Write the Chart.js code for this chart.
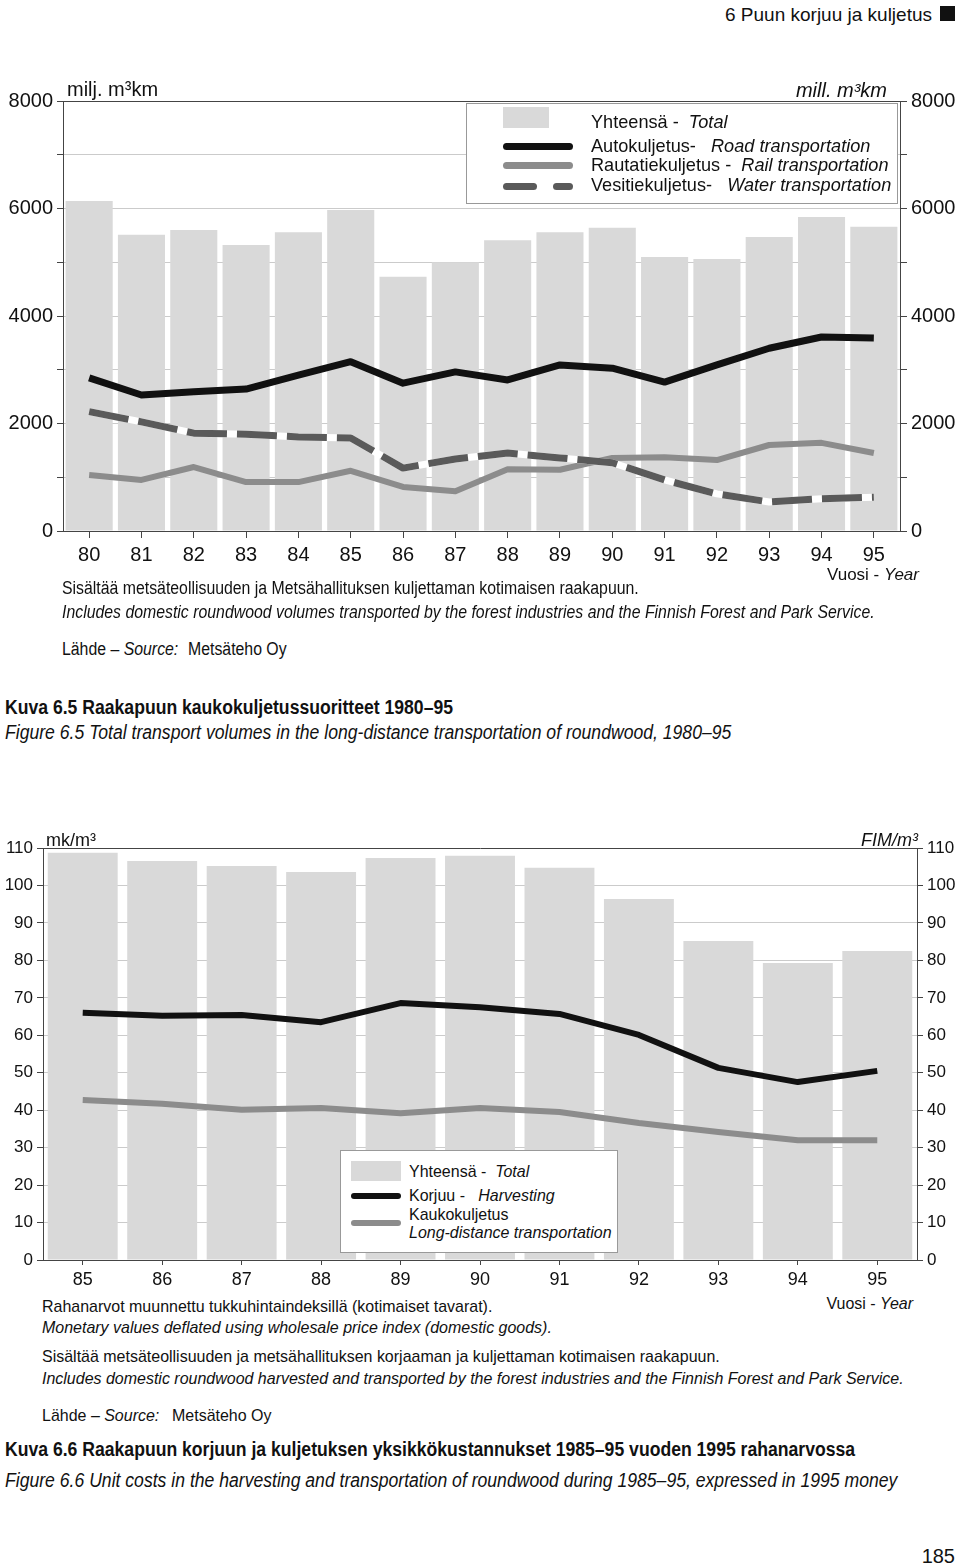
<html>
<head>
<script src="https://cdn.jsdelivr.net/npm/chart.js@4.4.1/dist/chart.umd.min.js"></script>
<style>
  body { margin:0; background:#fff; color:#111; }
  #page { position:relative; width:960px; height:1566px; overflow:hidden; font-family:"Liberation Sans Narrow","Liberation Sans",Arial,sans-serif; }
  .t { position:absolute; white-space:nowrap; line-height:1; transform-origin:0 0; }
  .i { font-style:italic; }
  .b { font-weight:bold; }
  .w { font-family:"Liberation Sans",Arial,sans-serif; }
  .n88 { transform:scaleX(0.88); }
  .n94 { transform:scaleX(0.94); }
  .n95 { transform:scaleX(0.955); }
  .r { transform-origin:100% 0; }
  .box { position:absolute; background:#fff; border:1px solid #999; }
  .sw { position:absolute; }
</style>
</head>
<body>
<div id="page">

  <!-- page header -->
  <div class="t w" style="right:28px;top:5px;font-size:19px;">6 Puun korjuu ja kuljetus</div>
  <div class="sw" style="left:940px;top:6px;width:15px;height:15px;background:#111;"></div>

  <!-- chart 6.5 -->
  <div style="position:absolute;left:0;top:80px;width:960px;height:500px;">
    <canvas id="transport-chart"></canvas>
  </div>
  <div class="t w" style="left:67px;top:79px;font-size:20px;">milj. m³km</div>
  <div class="t w i" style="right:73px;top:80px;font-size:20px;">mill. m³km</div>

  <div class="box" style="left:466px;top:103px;width:430px;height:99px;"></div>
  <div class="sw" style="left:503px;top:107px;width:46px;height:21px;background:#d9d9d9;"></div>
  <div class="sw" style="left:503px;top:143px;width:70px;height:7px;background:#111;border-radius:4px;"></div>
  <div class="sw" style="left:503px;top:162px;width:70px;height:7px;background:#8c8c8c;border-radius:4px;"></div>
  <div class="sw" style="left:503px;top:183px;width:34px;height:7px;background:#5a5a5a;border-radius:4px;"></div>
  <div class="sw" style="left:553px;top:183px;width:20px;height:7px;background:#5a5a5a;border-radius:4px;"></div>
  <div class="t n95" style="left:591px;top:112px;font-size:19px;">Yhteensä - &nbsp;<span class="i">Total</span></div>
  <div class="t n95" style="left:591px;top:136px;font-size:19px;">Autokuljetus- &nbsp;&nbsp;<span class="i">Road transportation</span></div>
  <div class="t n95" style="left:591px;top:155px;font-size:19px;">Rautatiekuljetus - &nbsp;<span class="i">Rail transportation</span></div>
  <div class="t n95" style="left:591px;top:175px;font-size:19px;">Vesitiekuljetus- &nbsp;&nbsp;<span class="i">Water transportation</span></div>

  <div class="t" style="right:41px;top:566px;font-size:17px;">Vuosi - <span class="i">Year</span></div>
  <div class="t n88" style="left:62px;top:579px;font-size:18px;">Sisältää metsäteollisuuden ja Metsähallituksen kuljettaman kotimaisen raakapuun.</div>
  <div class="t i n88" style="left:62px;top:603px;font-size:18px;">Includes domestic roundwood volumes transported by the forest industries and the Finnish Forest and Park Service.</div>
  <div class="t n88" style="left:62px;top:640px;font-size:18px;">Lähde – <span class="i">Source:</span></div>
  <div class="t n88" style="left:188px;top:640px;font-size:18px;">Metsäteho Oy</div>
  <div class="t b n88" style="left:5px;top:697px;font-size:20px;">Kuva 6.5 Raakapuun kaukokuljetussuoritteet 1980–95</div>
  <div class="t i n88" style="left:5px;top:722px;font-size:20px;">Figure 6.5 Total transport volumes in the long-distance transportation of roundwood, 1980–95</div>

  <!-- chart 6.6 -->
  <div style="position:absolute;left:0;top:820px;width:960px;height:470px;">
    <canvas id="cost-chart"></canvas>
  </div>
  <div class="t w" style="left:46px;top:831px;font-size:18px;">mk/m³</div>
  <div class="t w i" style="right:42px;top:831px;font-size:18px;">FIM/m³</div>

  <div class="box" style="left:340px;top:1150px;width:276px;height:101px;"></div>
  <div class="sw" style="left:351px;top:1161px;width:50px;height:20px;background:#d9d9d9;"></div>
  <div class="sw" style="left:351px;top:1193px;width:50px;height:6px;background:#111;border-radius:3px;"></div>
  <div class="sw" style="left:351px;top:1220px;width:50px;height:6px;background:#8c8c8c;border-radius:3px;"></div>
  <div class="t n94" style="left:409px;top:1163px;font-size:17px;">Yhteensä - &nbsp;<span class="i">Total</span></div>
  <div class="t n94" style="left:409px;top:1187px;font-size:17px;">Korjuu - &nbsp;&nbsp;<span class="i">Harvesting</span></div>
  <div class="t n94" style="left:409px;top:1206px;font-size:17px;">Kaukokuljetus</div>
  <div class="t i n94" style="left:409px;top:1224px;font-size:17px;">Long-distance transportation</div>

  <div class="t n94" style="left:42px;top:1298px;font-size:17px;">Rahanarvot muunnettu tukkuhintaindeksillä (kotimaiset tavarat).</div>
  <div class="t n94 r" style="right:47px;top:1295px;font-size:17px;">Vuosi - <span class="i">Year</span></div>
  <div class="t i n94" style="left:42px;top:1319px;font-size:17px;">Monetary values deflated using wholesale price index (domestic goods).</div>
  <div class="t n94" style="left:42px;top:1348px;font-size:17px;">Sisältää metsäteollisuuden ja metsähallituksen korjaaman ja kuljettaman kotimaisen raakapuun.</div>
  <div class="t i n94" style="left:42px;top:1370px;font-size:17px;">Includes domestic roundwood harvested and transported by the forest industries and the Finnish Forest and Park Service.</div>
  <div class="t n94" style="left:42px;top:1407px;font-size:17px;">Lähde – <span class="i">Source:</span></div>
  <div class="t n94" style="left:172px;top:1407px;font-size:17px;">Metsäteho Oy</div>
  <div class="t b n88" style="left:5px;top:1439px;font-size:20px;">Kuva 6.6 Raakapuun korjuun ja kuljetuksen yksikkökustannukset 1985–95 vuoden 1995 rahanarvossa</div>
  <div class="t i n88" style="left:5px;top:1470px;font-size:20px;">Figure 6.6 Unit costs in the harvesting and transportation of roundwood during 1985–95, expressed in 1995 money</div>

  <div class="t w" style="right:5px;top:1546px;font-size:20px;">185</div>
</div>

<script>
// Kuva 6.5, milj. m3km
var years1 = ['80','81','82','83','84','85','86','87','88','89','90','91','92','93','94','95'];
var total1 = [6140,5510,5600,5320,5560,5970,4730,5000,5410,5560,5640,5100,5060,5470,5840,5660];
var road1  = [2850,2530,2590,2640,2900,3150,2750,2960,2810,3090,3030,2770,3090,3400,3610,3590];
var rail1  = [1040,950,1190,910,910,1120,820,740,1150,1140,1360,1370,1320,1600,1640,1450];
var water1 = [2220,2030,1820,1800,1750,1730,1170,1340,1450,1360,1270,950,690,540,600,630];

// Kuva 6.6, mk/m3 (1995 money)
var years2   = ['85','86','87','88','89','90','91','92','93','94','95'];
var total2   = [108.7,106.5,105.2,103.6,107.3,107.9,104.7,96.4,85.2,79.3,82.5];
var harvest2 = [66.0,65.2,65.4,63.5,68.6,67.5,65.7,60.1,51.3,47.5,50.5];
var longd2   = [42.7,41.7,40.1,40.6,39.2,40.6,39.5,36.6,34.2,32.0,32.0];

var axisDark = '#444';
var gridLight = '#cbcbcb';
var barGrey = '#d9d9d9';

Chart.defaults.font.family = '"Liberation Sans", Arial, sans-serif';
Chart.defaults.color = '#111';

function lineSet(label, data, color, width, order, dash) {
  return {
    type: 'line',
    label: label,
    data: data,
    borderColor: color,
    borderWidth: width,
    borderDash: dash || [],
    borderCapStyle: 'butt',
    borderJoinStyle: 'round',
    pointRadius: 0,
    fill: false,
    tension: 0,
    order: order
  };
}

function yAxis(pos, max, step, labelStep, width, fontSize, tickLen) {
  return {
    position: pos,
    min: 0,
    max: max,
    ticks: {
      stepSize: step,
      autoSkip: false,
      padding: 4,
      font: { size: fontSize },
      callback: function(v) { return v % labelStep === 0 ? String(v) : ''; }
    },
    grid: {
      drawOnChartArea: pos === 'left',
      color: function(c) { return c.tick && c.tick.value === max ? axisDark : gridLight; },
      tickColor: axisDark,
      tickLength: tickLen
    },
    border: { color: axisDark, width: 1 },
    afterFit: function(s) { s.width = width; }
  };
}

new Chart(document.getElementById('transport-chart'), {
  type: 'bar',
  data: {
    labels: years1,
    datasets: [
      { label: 'Yhteensä - Total', data: total1, backgroundColor: barGrey, barPercentage: 0.9, categoryPercentage: 1.0, order: 10 },
      lineSet('Rautatiekuljetus - Rail transportation', rail1, '#8c8c8c', 6, 4),
      lineSet('', water1, '#ffffff', 7, 3),
      lineSet('Vesitiekuljetus - Water transportation', water1, '#5a5a5a', 7, 2, [40, 10]),
      lineSet('Autokuljetus - Road transportation', road1, '#111111', 7, 1)
    ]
  },
  options: {
    responsive: true,
    maintainAspectRatio: false,
    animation: false,
    layout: { padding: { top: 21, bottom: 0, left: 0, right: 0 } },
    plugins: { legend: { display: false }, tooltip: { enabled: false } },
    scales: {
      x: {
        grid: { offset: false, drawOnChartArea: false, tickColor: axisDark, tickLength: 7 },
        border: { color: axisDark, width: 1 },
        ticks: { padding: 5, maxRotation: 0, autoSkip: false, font: { size: 20 } },
        afterFit: function(s) { s.height = 49; }
      },
      y: yAxis('left', 8000, 1000, 2000, 63, 20, 6),
      y2: yAxis('right', 8000, 1000, 2000, 60, 20, 7)
    }
  }
});

new Chart(document.getElementById('cost-chart'), {
  type: 'bar',
  data: {
    labels: years2,
    datasets: [
      { label: 'Yhteensä - Total', data: total2, backgroundColor: barGrey, barPercentage: 0.88, categoryPercentage: 1.0, order: 10 },
      lineSet('Kaukokuljetus - Long-distance transportation', longd2, '#8c8c8c', 6, 2),
      lineSet('Korjuu - Harvesting', harvest2, '#111111', 6, 1)
    ]
  },
  options: {
    responsive: true,
    maintainAspectRatio: false,
    animation: false,
    layout: { padding: { top: 28, bottom: 0, left: 0, right: 0 } },
    plugins: { legend: { display: false }, tooltip: { enabled: false } },
    scales: {
      x: {
        grid: { offset: false, drawOnChartArea: false, tickColor: axisDark, tickLength: 5 },
        border: { color: axisDark, width: 1 },
        ticks: { padding: 4, maxRotation: 0, autoSkip: false, font: { size: 18 } },
        afterFit: function(s) { s.height = 30; }
      },
      y: yAxis('left', 110, 10, 10, 43, 17, 6),
      y2: yAxis('right', 110, 10, 10, 43, 17, 6)
    }
  }
});
</script>
</body>
</html>
